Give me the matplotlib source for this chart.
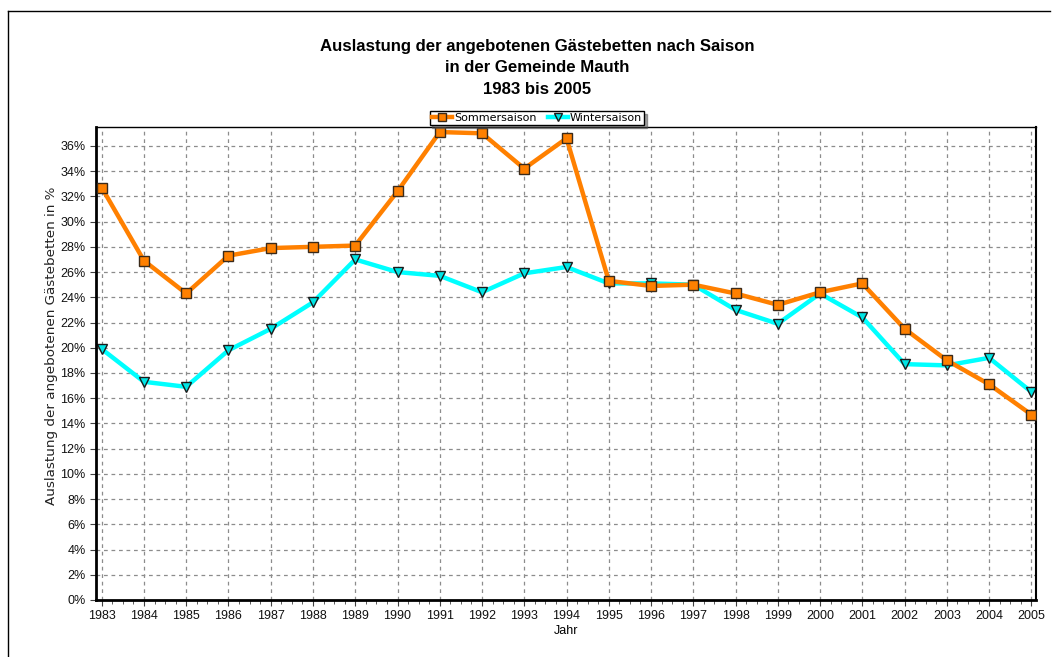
import numpy as np
import matplotlib
matplotlib.use('Agg')
import matplotlib.pyplot as plt
from matplotlib.ticker import MultipleLocator, FuncFormatter
from matplotlib.lines import Line2D

# Daten
jahre = list(range(1983, 2006))
sommer = [32.7, 26.9, 24.3, 27.3, 27.9, 28.0, 28.1, 32.4, 37.1, 37.0, 34.2, 36.6,
          25.3, 24.9, 25.0, 24.3, 23.4, 24.4, 25.1, 21.5, 19.0, 17.1, 14.7]
winter = [19.9, 17.3, 16.9, 19.8, 21.5, 23.6, 27.0, 26.0, 25.7, 24.4, 25.9, 26.4,
          25.1, 25.1, 25.0, 23.0, 21.9, 24.3, 22.4, 18.7, 18.6, 19.2, 16.5]
serien = ['Sommersaison', 'Wintersaison']

plt.rcParams['font.family'] = ['Liberation Sans', 'DejaVu Sans']

W, H = 1054, 657
fig = plt.figure(figsize=(W / 100, H / 100), dpi=100)
fig.patch.set_facecolor('white')

# Rahmen oben und links
fig.add_artist(Line2D([8 / W, 1050 / W], [1 - 11 / H, 1 - 11 / H], color='black', lw=1))
fig.add_artist(Line2D([8 / W, 8 / W], [1 - 11 / H, 0], color='black', lw=1))

ax = fig.add_axes([96 / W, 1 - 600 / H, (1036 - 96) / W, (600 - 127) / H])

ax.plot(jahre, sommer, color='#FF8000', lw=3.2, marker='s', markersize=7.5,
        markerfacecolor='#FF8000', markeredgecolor='#3a2a1a', markeredgewidth=1,
        label=serien[0], zorder=3)
ax.plot(jahre, winter, color='#00FFFF', lw=3.2, marker='v', markersize=7.5,
        markerfacecolor='#00E5E5', markeredgecolor='#1a1a1a', markeredgewidth=1,
        label=serien[1], zorder=2)

ax.set_xlim(1982.865, 2005.11)
ax.set_ylim(0, 37.5)
ax.xaxis.set_major_locator(MultipleLocator(1))
ax.xaxis.set_minor_locator(MultipleLocator(0.25))
ax.yaxis.set_major_locator(MultipleLocator(2))
ax.yaxis.set_major_formatter(FuncFormatter(lambda v, p: '%d%%' % round(v)))
ax.grid(True, which='major', color='#8c8c8c', ls=(0, (3, 3)), lw=0.9)

ax.tick_params(axis='both', which='major', length=4, color='#404040',
               labelcolor='#111111')
ax.tick_params(axis='x', which='minor', length=3, color='#404040')
for lab in ax.get_xticklabels() + ax.get_yticklabels():
    lab.set_family(['Liberation Sans'])
    lab.set_fontsize(9)

ax.spines['left'].set_linewidth(2)
ax.spines['bottom'].set_linewidth(2)
ax.spines['right'].set_linewidth(1.5)
ax.spines['top'].set_linewidth(1)

ax.set_xlabel('Jahr', fontsize=9, family=['Liberation Sans'], labelpad=2)
ax.set_ylabel('Auslastung der angebotenen Gästebetten in %', fontsize=9.7,
              family=['DejaVu Sans'], color='#222222')
ax.yaxis.set_label_coords(-38 / 940, (600 - 346) / 473)

for txt, yp in [('Auslastung der angebotenen Gästebetten nach Saison', 47),
                ('in der Gemeinde Mauth', 68),
                ('1983 bis 2005', 89)]:
    fig.text(537 / W, 1 - yp / H, txt, ha='center', va='center',
             fontsize=12.1, fontweight='bold')

leg = ax.legend(loc='center', bbox_to_anchor=(537 / W, 1 - 118 / H),
                bbox_transform=fig.transFigure, ncol=2,
                prop={'family': 'DejaVu Sans', 'size': 8},
                frameon=True, fancybox=False, shadow=True, borderpad=0.2,
                handlelength=1.8, handletextpad=0.2, columnspacing=1.0,
                markerscale=0.8)
leg.get_frame().set_edgecolor('black')
leg.get_frame().set_linewidth(1)

fig.savefig('out.png', dpi=100)
